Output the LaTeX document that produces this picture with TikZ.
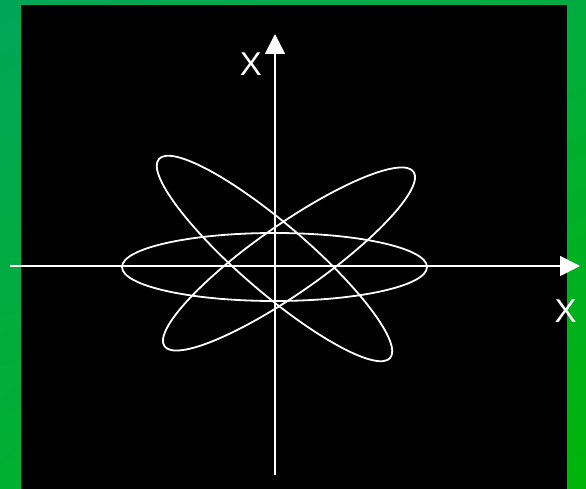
\documentclass[tikz,border=0pt]{standalone}
\usepackage{fontspec}
\setmainfont{Liberation Sans}
\usepackage{tikz}
\usetikzlibrary{arrows.meta,calc,positioning,shadings}

\definecolor{bgtl}{RGB}{0,166,88}
\definecolor{bgtr}{RGB}{0,172,62}
\definecolor{bgbl}{RGB}{0,176,48}
\definecolor{bgbr}{RGB}{0,180,8}

\begin{document}
\begin{tikzpicture}[
  x=1pt, y=-1pt, >={Triangle[length=20pt,width=20pt]},
  axis/.style={draw=white, line width=1.7pt},
  orbit/.style={draw=white, line width=1.8pt},
  lbl/.style={text=white, font=\fontsize{33}{33}\selectfont, inner sep=0pt},
]
  \useasboundingbox (0,0) rectangle (586,489);
  \shade[upper left=bgtl, upper right=bgtr, lower left=bgbl, lower right=bgbr]
    (0,0) rectangle (586,489);
  \fill[black] (21,5) rectangle (567,489);

  % axes
  \coordinate (xs) at (10,266);
  \coordinate (xe) at (580,266);
  \coordinate (ys) at (275,475);
  \coordinate (ye) at (275,34);
  \draw[axis, ->] (xs) -- (xe);
  \draw[axis, ->] (ys) -- (ye);

  \node[lbl] (ylab) at (251,64) {X};
  \node[lbl] (xlab) at (565.5,311.5) {X};

  % orbits
  \coordinate (c0) at (274.5,267);
  \coordinate (cA) at (274.5,258.5);
  \coordinate (cB) at (289,259);
  \draw[orbit] (c0) ellipse [x radius=152.5, y radius=34];
  \draw[orbit, rotate around={-40.7:(cA)}] (cA) ellipse [x radius=152.5, y radius=34];
  \draw[orbit, rotate around={35:(cB)}] (cB) ellipse [x radius=152, y radius=34];
\end{tikzpicture}
\end{document}
